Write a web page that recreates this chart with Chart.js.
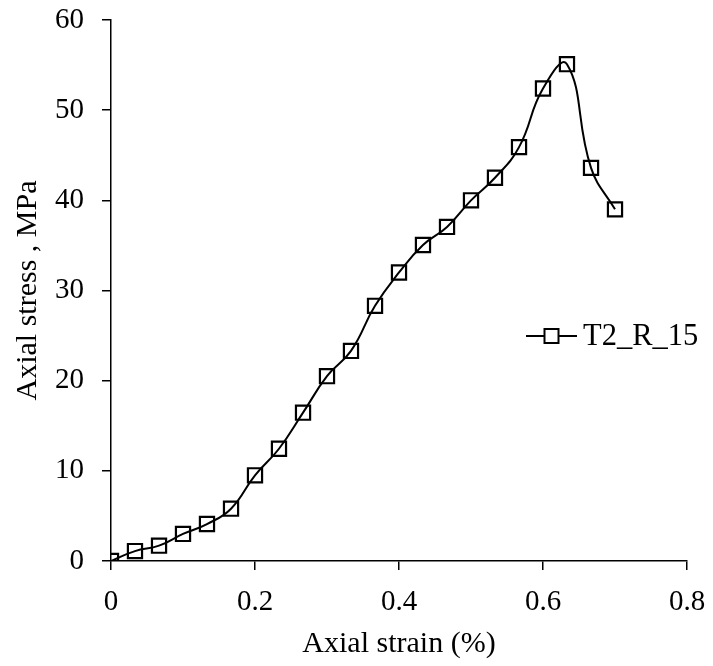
<!DOCTYPE html>
<html>
<head>
<meta charset="utf-8">
<script src="https://cdn.jsdelivr.net/npm/chart.js@4"></script>
<style>
html,body{margin:0;padding:0;background:#fff;}
#wrap{position:relative;width:713px;height:666px;}
</style>
</head>
<body>
<div id="wrap"><canvas id="c" width="713" height="666"></canvas></div>
<script>
const strain = [0, 0.0333, 0.0667, 0.1, 0.1333, 0.1667, 0.2, 0.2333, 0.2667, 0.3, 0.3333, 0.3667, 0.4, 0.4333, 0.4667, 0.5, 0.5333, 0.5667, 0.6, 0.6333, 0.6667, 0.7];
const stress = [0, 1.1, 1.7, 3.0, 4.1, 5.8, 9.5, 12.45, 16.45, 20.5, 23.3, 28.3, 32.0, 35.05, 37.05, 40.0, 42.5, 45.9, 52.4, 55.1, 43.6, 39.0];
const seriesName = 'T2_R_15';
const xTicks = [0, 0.2, 0.4, 0.6, 0.8];
const yTicks = [0, 10, 20, 30, 40, 50, 60];

const FONT = "'Liberation Serif', 'Times New Roman', serif";

const legendPlugin = {
  id: 'customLegend',
  afterDraw(chart) {
    const ctx = chart.ctx;
    ctx.save();
    const y = 336;
    ctx.strokeStyle = '#000';
    ctx.lineWidth = 1.8;
    ctx.beginPath();
    ctx.moveTo(526, y); ctx.lineTo(577, y);
    ctx.stroke();
    ctx.fillStyle = '#fff';
    ctx.fillRect(544.5, y - 7, 14, 14);
    ctx.lineWidth = 2;
    ctx.strokeRect(544.5, y - 7, 14, 14);
    ctx.fillStyle = '#000';
    ctx.font = '30.5px ' + FONT;
    ctx.textBaseline = 'middle';
    ctx.textAlign = 'left';
    ctx.fillText(seriesName, 583, y + 1);
    ctx.restore();
  }
};

new Chart(document.getElementById('c'), {
  type: 'line',
  data: {
    datasets: [{
      label: seriesName,
      data: strain.map((x, i) => ({x: x, y: stress[i]})),
      borderColor: '#000',
      borderWidth: 2,
      tension: 0.45,
      pointStyle: 'rect',
      pointRadius: 10,
      pointBorderWidth: 2.2,
      pointBorderColor: '#000',
      pointBackgroundColor: 'rgba(0,0,0,0)',
      fill: false
    }]
  },
  options: {
    responsive: false,
    animation: false,
    events: [],
    layout: {padding: {left: 6, right: 26, top: 20, bottom: 0}},
    plugins: {legend: {display: false}, tooltip: {enabled: false}},
    scales: {
      x: {
        type: 'linear', min: 0, max: 0.8,
        afterBuildTicks: s => { s.ticks = xTicks.map(v => ({value: v})); },
        afterFit: s => { s.height = 105; s.paddingRight = 0; s.paddingLeft = 0; },
        grid: {display: true, drawOnChartArea: false, drawTicks: true, tickLength: 9, color: '#000', lineWidth: 1.5},
        border: {display: true, color: '#000', width: 1.5},
        ticks: {color: '#000', font: {family: FONT, size: 29}, padding: 15, maxRotation: 0,
                callback: v => String(v)},
        title: {display: true, text: 'Axial strain (%)', color: '#000', font: {family: FONT, size: 30}, padding: {top: 1}}
      },
      y: {
        type: 'linear', min: 0, max: 60,
        afterBuildTicks: s => { s.ticks = yTicks.map(v => ({value: v})); },
        afterFit: s => { s.width = 105; s.paddingTop = 0; s.paddingBottom = 0; },
        grid: {display: true, drawOnChartArea: false, drawTicks: true, tickLength: 9, color: '#000', lineWidth: 1.5},
        border: {display: true, color: '#000', width: 1.5},
        ticks: {color: '#000', font: {family: FONT, size: 29}, padding: 18},
        title: {display: true, text: 'Axial stress , MPa', color: '#000', font: {family: FONT, size: 30}, padding: {bottom: 4}}
      }
    }
  },
  plugins: [legendPlugin]
});
</script>
</body>
</html>
